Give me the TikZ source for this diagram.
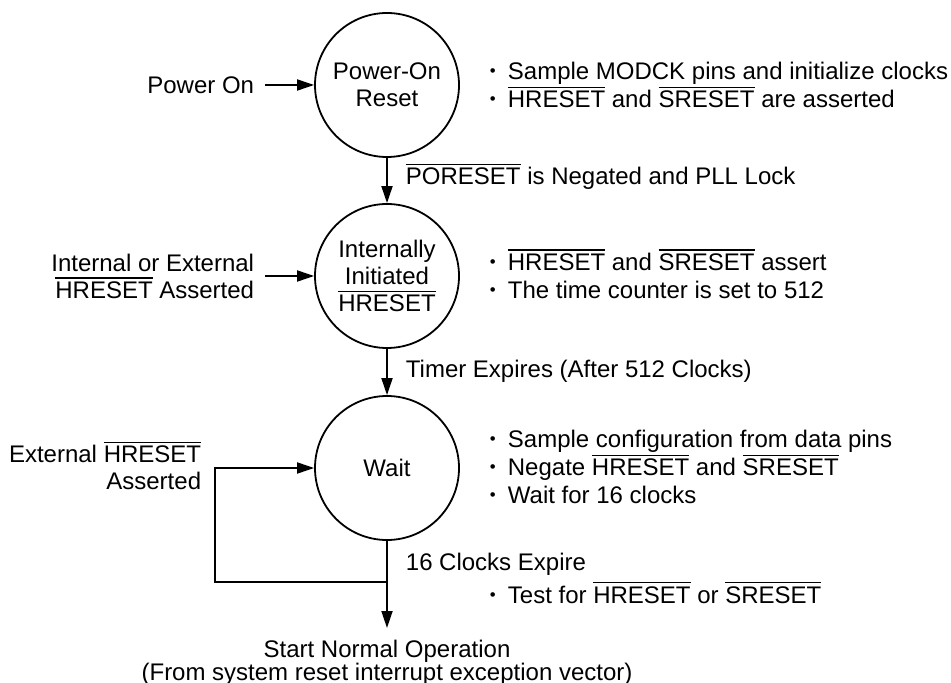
\documentclass[tikz,border=0pt]{standalone}
\usepackage{fontspec}
\setmainfont{Liberation Sans}
\usepackage{graphicx}
\usetikzlibrary{arrows.meta,positioning}
\newcommand{\barsig}[1]{\leavevmode\vbox{\hrule height 0.75pt\kern1.4pt\hbox{#1}}}
\newcommand{\bul}{\makebox[9pt][l]{\raisebox{0.11em}{\scalebox{0.7}{•}}}}

\begin{document}
\begin{tikzpicture}[x=0.5pt, y=-0.5pt, line width=0.9pt, >={Triangle[length=8.5pt,width=5.5pt]},
	every node/.style={font=\fontsize{12}{13.5}\selectfont},
	state/.style={draw, circle, minimum size=72pt, inner sep=0pt, align=center},
	lbl/.style={inner xsep=5pt, inner ysep=0pt},
	note/.style={inner sep=0pt, align=left, anchor=west, font=\fontsize{12}{14}\selectfont}]
\useasboundingbox (0,0) rectangle (951,683);
					% states
					\node[state] (por) at (387,85) {Power-On\\Reset};
					\node[state] (iir) at (387,276) {Internally\\Initiated\\\barsig{HRESET}};
					\node[state] (wait) at (387,468) {Wait};
					% inputs on the left
					\node[lbl, anchor=east] (pon) at (265,85) {Power On};
					\node[lbl, anchor=east, align=right] (ext1) at (265,276) {Internal or External\\\barsig{HRESET} Asserted};
					\node[lbl, anchor=east, align=right] (ext2) at (212,466) {External \barsig{HRESET}\\Asserted};
					% transition labels
					\node[lbl, inner xsep=0pt, anchor=base west] (lk1) at (405,185) {\barsig{PORESET} is Negated and PLL Lock};
					\node[lbl, inner xsep=0pt, anchor=base west] (lk2) at (405,378) {Timer Expires (After 512 Clocks)};
					\node[lbl, inner xsep=0pt, anchor=base west] (lk3) at (405,570) {16 Clocks Expire};
					\node[inner xsep=0pt, inner ysep=5.5pt, anchor=north, align=center, font=\fontsize{12}{11.5}\selectfont] (start) at (387,628) {Start Normal Operation\\(From system reset interrupt exception vector)};
					% notes on the right
					\node[note] (n1) at (489,85) {\bul Sample MODCK pins and initialize clocks\\\bul\barsig{HRESET} and \barsig{SRESET} are asserted};
					\node[note] (n2) at (489,274) {\bul\barsig{HRESET} and \barsig{SRESET} assert\\\bul The time counter is set to 512};
					\node[note] (n3) at (489,467) {\bul Sample configuration from data pins\\\bul Negate \barsig{HRESET} and \barsig{SRESET}\\\bul Wait for 16 clocks};
					\node[note, anchor=base west] (n4) at (489,603) {\bul Test for \barsig{HRESET} or \barsig{SRESET}};
					% arrows
					\draw[->] (pon) -- (por);
					\draw[->] (ext1) -- (iir);
					\draw[->] (por) -- (iir);
					\draw[->] (iir) -- (wait);
					\draw[->] (wait) -- (start);
					\coordinate (jn) at (387,582);
					\coordinate (lp) at (215,582);
					\draw[->] (jn) -- (lp) |- (wait.west);
				\end{tikzpicture}
\end{document}
